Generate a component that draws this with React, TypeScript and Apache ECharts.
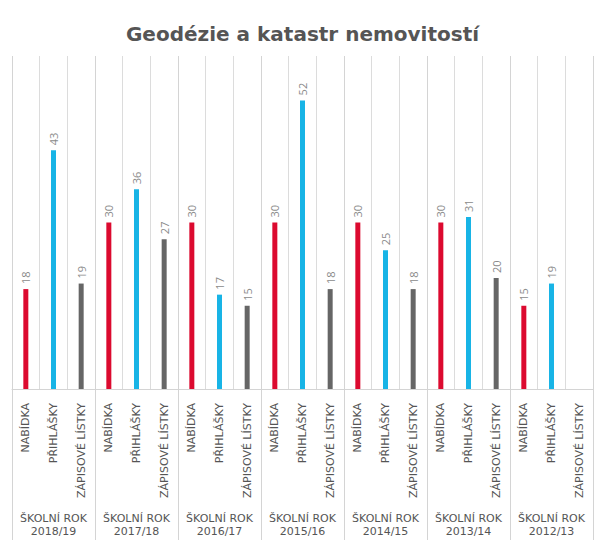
import React, { useEffect, useRef } from "react";
import * as echarts from "echarts";

const years = ["2018/19", "2017/18", "2016/17", "2015/16", "2014/15", "2013/14", "2012/13"];
const kinds = ["NABÍDKA", "PŘIHLÁŠKY", "ZÁPISOVÉ LÍSTKY"];
const nabidka = [18, 30, 30, 30, 30, 30, 15];
const prihlasky = [43, 36, 17, 52, 25, 31, 19];
const zapisove: (number | null)[] = [19, 27, 15, 18, 18, 20, null];
const colors = ["#dc0a2f", "#18b4e6", "#666666"];

export default function App() {
  const ref = useRef<HTMLDivElement>(null);
  useEffect(() => {
    if (!ref.current) return;
    const chart = echarts.init(ref.current, null, { renderer: "svg" });
    const cats: string[] = [];
    const data: any[] = [];
    years.forEach((y, i) => {
      const vals = [nabidka[i], prihlasky[i], zapisove[i]];
      kinds.forEach((k, j) => {
        cats.push(k);
        data.push({ value: vals[j], itemStyle: { color: colors[j] } });
      });
    });
    chart.setOption({
      animation: false,
      title: {
        text: "Geodézie a katastr nemovitostí",
        left: "center",
        top: 19,
        textStyle: {
          fontFamily: "DejaVu Sans, sans-serif",
          fontSize: 20,
          fontWeight: "bold",
          color: "#555555",
        },
      },
      grid: [
        { left: 12, right: 12, top: 56, bottom: 164 },
        { left: 12, right: 12, top: 56, bottom: 13 },
      ],
      xAxis: [
        {
          type: "category",
          gridIndex: 0,
          data: cats,
          axisLine: { show: true, lineStyle: { color: "#d4d4d4" } },
          axisTick: { show: false },
          splitLine: { show: true, lineStyle: { color: "#dcdcdc", width: 1 } },
          axisLabel: {
            interval: 0,
            rotate: 90,
            margin: 14,
            fontFamily: "DejaVu Sans, sans-serif",
            fontSize: 11,
            color: "#555555",
          },
        },
        {
          type: "category",
          gridIndex: 1,
          data: years.map((y) => "ŠKOLNÍ ROK\n" + y),
          axisLine: { show: false },
          axisTick: { show: false },
          splitLine: { show: true, lineStyle: { color: "#d4d4d4", width: 1 } },
          axisLabel: {
            inside: true,
            interval: 0,
            margin: 2,
            lineHeight: 13,
            fontFamily: "DejaVu Sans, sans-serif",
            fontSize: 11,
            color: "#555555",
          },
        },
      ],
      yAxis: [
        { type: "value", gridIndex: 0, min: 0, max: 60, show: false, splitLine: { show: false } },
        { type: "value", gridIndex: 1, min: 0, max: 1, show: false, splitLine: { show: false } },
      ],
      series: [
        {
          type: "bar",
          xAxisIndex: 0,
          yAxisIndex: 0,
          data,
          barWidth: 5,
          label: {
            show: true,
            position: "top",
            rotate: 90,
            align: "left",
            verticalAlign: "middle",
            distance: 5,
            fontFamily: "Open Sans, sans-serif",
            fontSize: 11,
            color: "#8a8a8a",
          },
        },
      ],
    });
    return () => chart.dispose();
  }, []);
  return (
    <div
      ref={ref}
      style={{ position: "fixed", left: 0, top: 0, width: 605, height: 553, background: "#fff" }}
    />
  );
}
